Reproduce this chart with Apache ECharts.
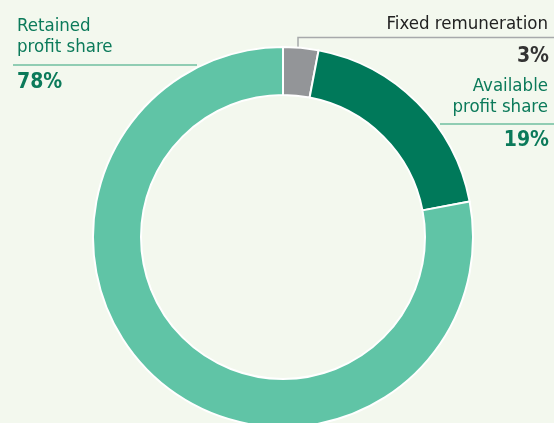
<!DOCTYPE html>
<html>
<head>
<meta charset="utf-8">
<script src="https://cdn.jsdelivr.net/npm/echarts@6/dist/echarts.min.js"></script>
<style>
  html, body { margin: 0; padding: 0; background: #f3f8ee; }
  #chart { width: 554px; height: 423px; }
</style>
</head>
<body>
<div id="chart"></div>
<script>
// Profit distribution shares (percent)
const categories = ['Fixed remuneration', 'Available\nprofit share', 'Retained\nprofit share'];
const shares = [3, 19, 78];
const sliceColors = ['#939598', '#00795a', '#60c4a6'];

const FONT = '"Liberation Sans Narrow", "DejaVu Sans Condensed", sans-serif';
const LABEL_FONT = '18.5px ' + FONT;
const VALUE_FONT = 'bold 21px ' + FONT;
const chart = echarts.init(document.getElementById('chart'), null, { renderer: 'canvas' });

const pieData = categories.map((name, i) => ({
  name: name,
  value: shares[i],
  itemStyle: { color: sliceColors[i] }
}));

function label(x, y, text, font, fill, align, lineHeight) {
  return {
    type: 'text', x: x, y: y,
    style: { text: text, font: font, fill: fill, align: align, verticalAlign: 'top', lineHeight: lineHeight }
  };
}

chart.setOption({
  backgroundColor: '#f3f8ee',
  animation: false,
  series: [{
    type: 'pie',
    center: [283, 237],
    radius: [142, 190],
    startAngle: 90,
    clockwise: true,
    label: { show: false },
    labelLine: { show: false },
    itemStyle: { borderColor: '#ffffff', borderWidth: 2 },
    emphasis: { disabled: true },
    data: pieData
  }],
  graphic: [
    // Retained profit share (left)
    label(17, 16, categories[2], LABEL_FONT, '#0b7a5a', 'left', 21),
    { type: 'line', shape: { x1: 13, y1: 65, x2: 197, y2: 65 }, style: { stroke: '#6fbf9f', lineWidth: 1.5 } },
    label(17, 72, shares[2] + '%', VALUE_FONT, '#0b7a5a', 'left'),
    // Fixed remuneration (top right)
    { type: 'polyline', shape: { points: [[298, 47], [298, 37.5], [554, 37.5]] }, style: { stroke: '#a7a9ab', lineWidth: 1.5, fill: null } },
    label(548, 15, categories[0], LABEL_FONT, '#222222', 'right'),
    label(549, 46, shares[0] + '%', VALUE_FONT, '#333333', 'right'),
    // Available profit share (right)
    label(548, 76, categories[1], LABEL_FONT, '#0b7a5a', 'right', 21),
    { type: 'line', shape: { x1: 440, y1: 124, x2: 554, y2: 124 }, style: { stroke: '#6fbf9f', lineWidth: 1.5 } },
    label(549, 130, shares[1] + '%', VALUE_FONT, '#0b7a5a', 'right')
  ]
});
</script>
</body>
</html>
